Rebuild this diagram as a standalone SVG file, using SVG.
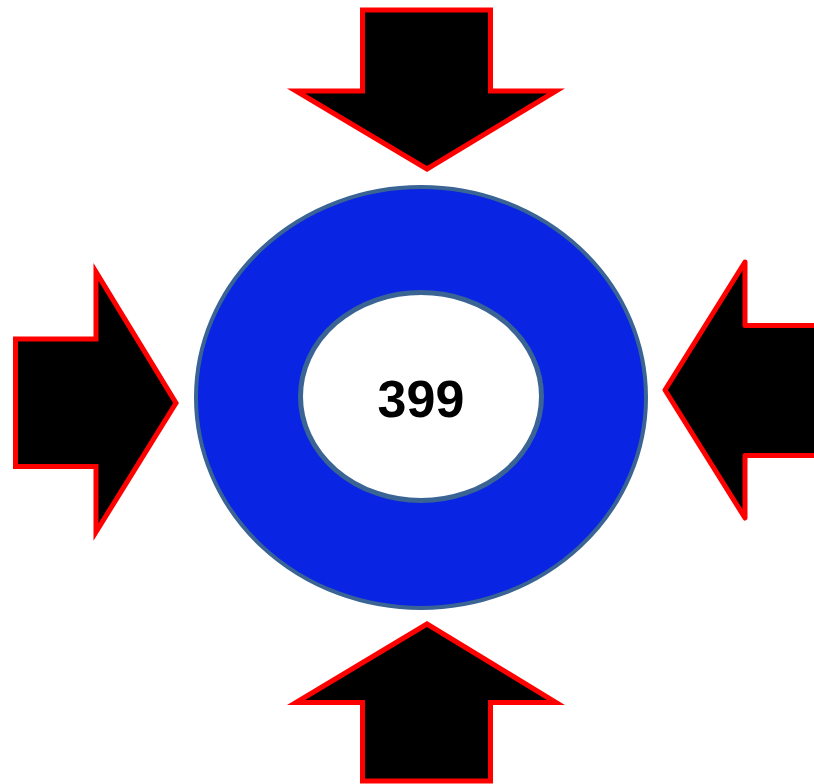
<svg xmlns="http://www.w3.org/2000/svg" width="814" height="784" viewBox="0 0 814 784">
<style>
.arrow{fill:#000;stroke:#ff0000;stroke-width:5;stroke-linejoin:miter;stroke-miterlimit:10}
.ring{fill:#0a24e3;stroke:#3a6494;stroke-width:4}
.hole{fill:#fff;stroke:#3a6494;stroke-width:5}
.label{font-family:"Liberation Sans",Arial,sans-serif;font-weight:bold;font-size:52px;fill:#000;text-anchor:middle}
</style>
<rect width="814" height="784" fill="#fff"/>
<g id="ring">
<ellipse class="ring" cx="421" cy="397.5" rx="225" ry="210.5"/>
<ellipse class="hole" cx="421" cy="396.5" rx="120.5" ry="104"/>
<text class="label" x="421" y="417">399</text>
</g>
<g id="arrow-top">
<polygon class="arrow" points="362.5,10 490.5,10 490.5,91 556,91 427,169 296,91 362.5,91"/>
</g>
<g id="arrow-left">
<polygon class="arrow" points="15.5,339 96,339 96,272 176,403 96,532 96,466.5 15.5,466.5"/>
</g>
<g id="arrow-right">
<polygon class="arrow" style="stroke-linejoin:round" points="830,325.5 745,325.5 745,262 665,390 745,518 745,455.5 830,455.5"/>
</g>
<g id="arrow-bottom">
<polygon class="arrow" points="362.5,781 490.5,781 490.5,702.5 556,702.5 427,624 296,702.5 362.5,702.5"/>
</g>
<g id="connectors"/>
</svg>
